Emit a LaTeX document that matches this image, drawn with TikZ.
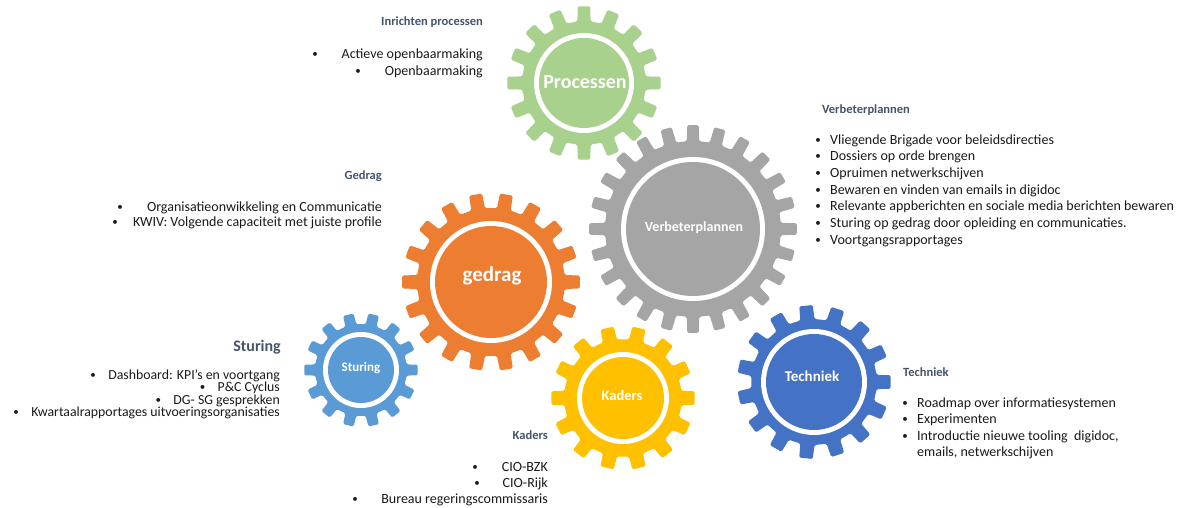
\documentclass[tikz,border=0pt]{standalone}
\usepackage{fontspec}
\setmainfont{Carlito}
\definecolor{cgreen}{HTML}{A9D18E}
\definecolor{cgray}{HTML}{A5A5A5}
\definecolor{corange}{HTML}{ED7D31}
\definecolor{clblue}{HTML}{5B9BD5}
\definecolor{cyellow}{HTML}{FFC000}
\definecolor{cdblue}{HTML}{4472C4}
\definecolor{chead}{HTML}{44546A}
\definecolor{cbody}{HTML}{1A1A1A}
% #1 x, #2 y, #3 teeth, #4 tip radius, #5 root radius, #6 ring radius, #7 colour, #8 phase
\newcommand\mygear[8]{%
  \begin{scope}[shift={(#1,#2)}]
    \pgfmathsetmacro\gp{360/#3}
    \fill[#7, rounded corners=1.5pt] ({#8-0.27*\gp}:#5)
      \foreach \i in {1,...,#3}{
        -- ({#8+(\i-1)*\gp-0.27*\gp}:#5)
        -- ({#8+(\i-1)*\gp-0.21*\gp}:#4)
        -- ({#8+(\i-1)*\gp+0.21*\gp}:#4)
        -- ({#8+(\i-1)*\gp+0.27*\gp}:#5)
      } -- cycle;
    \fill[white] (0,0) circle[radius=#6];
    \fill[#7] (0,0) circle[radius=#6-5];
  \end{scope}}
\tikzset{
  geartxt/.style={text=white, font=\bfseries, inner sep=0pt},
  head/.style={text=chead, font=\fontsize{12.5}{14}\selectfont\bfseries, inner sep=0pt},
  item/.style={text=cbody, font=\fontsize{14}{16}\selectfont, inner sep=0pt},
  bul/.style={text=cbody, font=\fontsize{11}{13}\selectfont, inner sep=0pt, anchor=base},
}
\begin{document}
\begin{tikzpicture}[x=1pt,y=-1pt]
\useasboundingbox[fill=white] (0,0) rectangle (1191,508);
% gears
\mygear{584}{83}{16}{77}{62}{50}{cgreen}{0}
\mygear{693}{229}{24}{104}{88}{72}{cgray}{0}
\mygear{491}{282}{18}{89}{74}{61}{corange}{0}
\mygear{361}{370}{14}{57}{46}{38}{clblue}{0}
\mygear{623}{398}{14}{72}{59}{46}{cyellow}{0}
\mygear{814}{382}{15}{77}{63}{53}{cdblue}{0}
% gear labels
\node[geartxt, font=\fontsize{20}{22}\selectfont\bfseries] (tproc) at (585,82) {Processen};
\node[geartxt, font=\fontsize{14}{16}\selectfont\bfseries] (tverb) at (694,228) {Verbeterplannen};
\node[geartxt, font=\fontsize{21}{23}\selectfont\bfseries] (tged) at (492,276) {gedrag};
\node[geartxt, font=\fontsize{13}{15}\selectfont\bfseries] (tstu) at (361,368) {Sturing};
\node[geartxt, font=\fontsize{14.5}{16}\selectfont\bfseries] (tkad) at (622,395) {Kaders};
\node[geartxt, font=\fontsize{15}{17}\selectfont\bfseries] (ttech) at (812,376) {Techniek};
% Inrichten processen
\node[head, anchor=base east] (hproc) at (483,26) {Inrichten processen};
\node[item, anchor=base east] (p1) at (483,59) {Actieve openbaarmaking};
\node[bul] (bp1) at (315,58) {\textbullet};
\node[item, anchor=base east] (p2) at (483,76) {Openbaarmaking};
\node[bul] (bp2) at (358,75) {\textbullet};
% Verbeterplannen
\node[head, anchor=base west] (hverb) at (822,114) {Verbeterplannen};
\foreach \t [count=\k] in {Vliegende Brigade voor beleidsdirecties,Dossiers op orde brengen,Opruimen netwerkschijven,Bewaren en vinden van emails in digidoc,Relevante appberichten en sociale media berichten bewaren,Sturing op gedrag door opleiding en communicaties.,Voortgangsrapportages}{
  \node[item, anchor=base west] (v\k) at (830,{144+(\k-1)*16.7}) {\t};
  \node[bul] (bv\k) at (818,{143+(\k-1)*16.7}) {\textbullet};
}
% Gedrag
\node[head, anchor=base east] (hged) at (382,179) {Gedrag};
\node[item, anchor=base east] (g1) at (382,211) {Organisatieonwikkeling en Communicatie};
\node[bul] (bg1) at (120,210) {\textbullet};
\node[item, anchor=base east] (g2) at (382,226) {KWIV: Volgende capaciteit met juiste profile};
\node[bul] (bg2) at (115,225) {\textbullet};
% Sturing
\node[head, font=\fontsize{16}{18}\selectfont\bfseries, anchor=base east] (hstu) at (281,351) {Sturing};
\node[item, font=\fontsize{13.8}{15}\selectfont, anchor=base east] (s1) at (280,379) {Dashboard: KPI’s en voortgang};
\node[item, font=\fontsize{13.8}{15}\selectfont, anchor=base east] (s2) at (280,391.5) {P\&C Cyclus};
\node[item, font=\fontsize{13.8}{15}\selectfont, anchor=base east] (s3) at (280,404) {DG- SG gesprekken};
\node[item, font=\fontsize{13.8}{15}\selectfont, anchor=base east] (s4) at (280,416.5) {Kwartaalrapportages uitvoeringsorganisaties};
\foreach \s in {s1,s2,s3,s4}{
  \node[bul] (b\s) at ([xshift=-15pt, yshift=1pt]\s.base west) {\textbullet};
}
% Techniek
\node[head, anchor=base west] (htech) at (903,376) {Techniek};
\node[item, anchor=base west] (t1) at (917,407) {Roadmap over informatiesystemen};
\node[bul] (bt1) at (905,406) {\textbullet};
\node[item, anchor=base west] (t2) at (917,423) {Experimenten};
\node[bul] (bt2) at (905,422) {\textbullet};
\node[item, anchor=base west] (t3) at (917,440) {Introductie nieuwe tooling\ \ digidoc,};
\node[bul] (bt3) at (905,439) {\textbullet};
\node[item, anchor=base west] (t4) at (917,456) {emails, netwerkschijven};
% Kaders
\node[head, anchor=base east] (hkad) at (548,439) {Kaders};
\node[item, anchor=base east] (k1) at (548,471) {CIO-BZK};
\node[bul] (bk1) at (475,470) {\textbullet};
\node[item, anchor=base east] (k2) at (548,487) {CIO-Rijk};
\node[bul] (bk2) at (477,486) {\textbullet};
\node[item, anchor=base east] (k3) at (548,503) {Bureau regeringscommissaris};
\node[bul] (bk3) at (355,502) {\textbullet};
\end{tikzpicture}
\end{document}
